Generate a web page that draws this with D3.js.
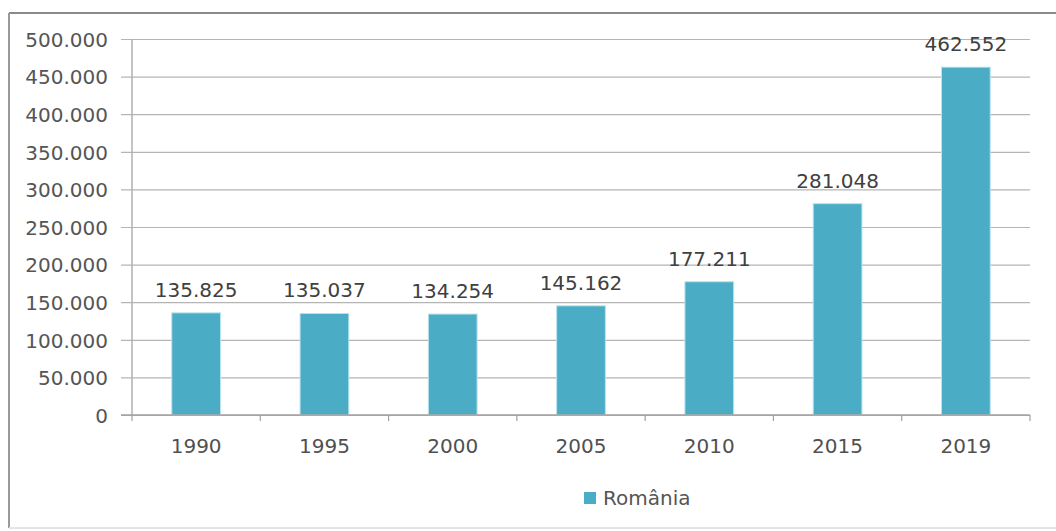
<!DOCTYPE html>
<html>
<head>
<meta charset="utf-8">
<script src="https://cdn.jsdelivr.net/npm/d3@7"></script>
<style>
  html, body { margin: 0; padding: 0; background: #ffffff; }
  svg { display: block; }
  text { font-family: "DejaVu Sans", Verdana, sans-serif; }
</style>
</head>
<body>
<svg id="chart" width="1056" height="531"></svg>
<script>
const categories = ["1990", "1995", "2000", "2005", "2010", "2015", "2019"];
const values = [135825, 135037, 134254, 145162, 177211, 281048, 462552];
const yTicks = [0, 50000, 100000, 150000, 200000, 250000, 300000, 350000, 400000, 450000, 500000];
const seriesName = "România";

const W = 1056, H = 531;
const plot = { left: 132, right: 1030, top: 39, bottom: 415 };
const barColor = "#4BACC6";

const svg = d3.select("#chart");
const locale = d3.formatLocale({ decimal: ",", thousands: ".", grouping: [3], currency: ["", ""] });
const fmt = locale.format(",d");

// frame
svg.append("rect").attr("x", 0).attr("y", 0).attr("width", W).attr("height", H).attr("fill", "#ffffff");
svg.append("line").attr("x1", 9).attr("x2", W).attr("y1", 13).attr("y2", 13).attr("stroke", "#8a8a8a").attr("stroke-width", 2);
svg.append("line").attr("x1", 9).attr("x2", 9).attr("y1", 13).attr("y2", 528).attr("stroke", "#9a9a9a").attr("stroke-width", 2);
svg.append("line").attr("x1", 9).attr("x2", W).attr("y1", 528).attr("y2", 528).attr("stroke", "#e4e4e4").attr("stroke-width", 2);

const x = d3.scaleBand().domain(categories).range([plot.left, plot.right]).paddingInner(0.62).paddingOuter(0.31);
const y = d3.scaleLinear().domain([0, 500000]).range([plot.bottom, plot.top]);

// gridlines + y axis
const yAxis = d3.axisLeft(y).tickValues(yTicks).tickFormat(fmt).tickSizeInner(-(plot.right - plot.left)).tickSizeOuter(0).tickPadding(24);
const gy = svg.append("g").attr("transform", `translate(${plot.left},0)`).call(yAxis);
gy.select(".domain").remove();
gy.selectAll(".tick line").attr("stroke", "#b5b5b5").attr("stroke-width", 1.2).attr("x1", -11);
gy.selectAll(".tick text").attr("fill", "#555555").style("font-size", "20px").attr("dy", "0.36em");

// vertical axis line
svg.append("line").attr("x1", plot.left).attr("x2", plot.left).attr("y1", plot.top).attr("y2", plot.bottom).attr("stroke", "#b0b0b0").attr("stroke-width", 1.5);

// bars
svg.append("g").selectAll("rect").data(categories).join("rect")
  .attr("x", d => x(d))
  .attr("width", x.bandwidth())
  .attr("y", (d, i) => y(values[i]))
  .attr("height", (d, i) => y(0) - y(values[i]))
  .attr("fill", barColor)
  .attr("stroke", "#b9e3ee")
  .attr("stroke-width", 1);

// x axis
const step = x.step();
const boundaries = d3.range(categories.length + 1).map(i => plot.left + i * step);
svg.append("line").attr("x1", plot.left - 11).attr("x2", plot.right).attr("y1", plot.bottom).attr("y2", plot.bottom).attr("stroke", "#a0a0a0").attr("stroke-width", 1.5);
svg.append("g").selectAll("line").data(boundaries).join("line")
  .attr("x1", d => d).attr("x2", d => d).attr("y1", plot.bottom).attr("y2", plot.bottom + 6)
  .attr("stroke", "#a0a0a0").attr("stroke-width", 1.2);
const xAxis = d3.axisBottom(x).tickSize(0).tickPadding(0);
const gx = svg.append("g").attr("transform", `translate(0,${plot.bottom})`).call(xAxis);
gx.select(".domain").remove();
gx.selectAll(".tick text").attr("fill", "#505050").style("font-size", "20px").attr("y", 38).attr("dy", 0);

// value labels
svg.append("g").selectAll("text").data(categories).join("text")
  .attr("x", d => x(d) + x.bandwidth() / 2)
  .attr("y", (d, i) => y(values[i]) - 16)
  .attr("text-anchor", "middle")
  .attr("fill", "#404040")
  .style("font-size", "20px")
  .text((d, i) => fmt(values[i]));

// legend
const lg = svg.append("g");
lg.append("rect").attr("x", 584).attr("y", 492).attr("width", 12).attr("height", 12).attr("fill", barColor);
lg.append("text").attr("x", 603).attr("y", 505).attr("fill", "#555555").style("font-size", "20px").text(seriesName);
</script>
</body>
</html>
